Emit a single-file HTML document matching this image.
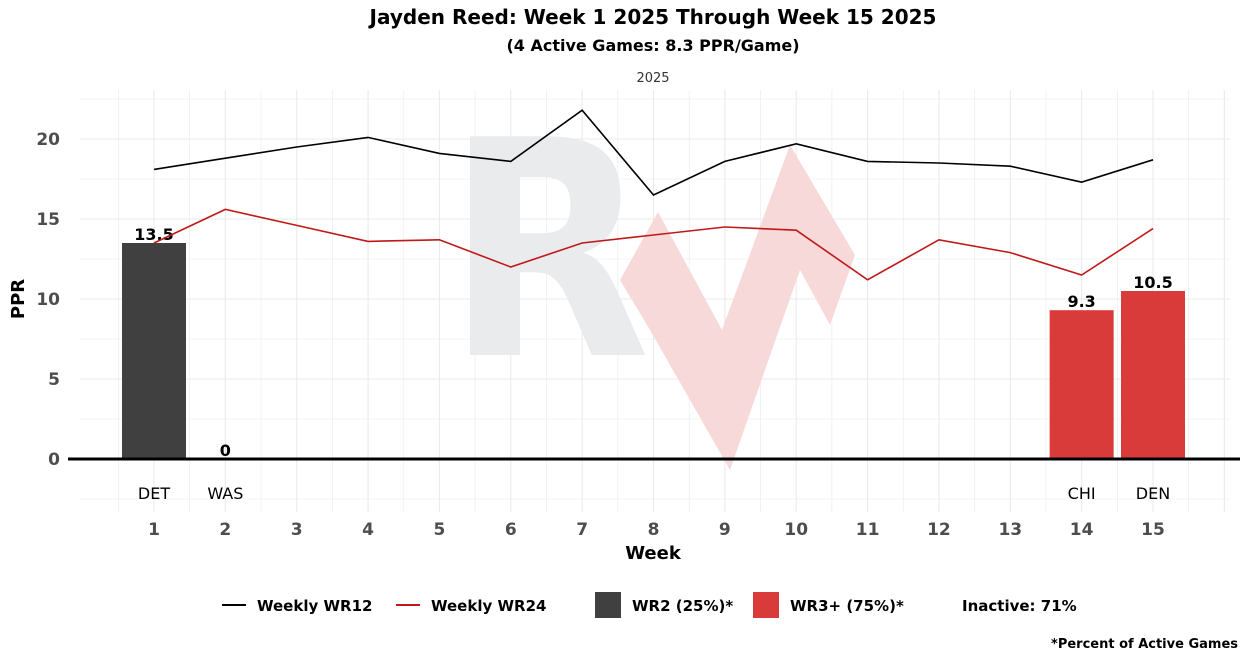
<!DOCTYPE html>
<html><head><meta charset="utf-8"><style>
body{margin:0;background:#fff;font-family:"Liberation Sans","DejaVu Sans",sans-serif}
svg text{font-family:"DejaVu Sans","Liberation Sans",sans-serif}
</style></head><body>
<svg id="c" width="1248" height="660" viewBox="0 0 1248 660" xmlns="http://www.w3.org/2000/svg">
<rect width="1248" height="660" fill="#fff"/>
<text x="653" y="24" text-anchor="middle" font-size="20" font-weight="bold">Jayden Reed: Week 1 2025 Through Week 15 2025</text>
<text x="653" y="51" text-anchor="middle" font-size="16" font-weight="bold">(4 Active Games: 8.3 PPR/Game)</text>
<text x="653" y="82" text-anchor="middle" font-size="13" fill="#333">2025</text>
<g id="grid"></g>
<g>
<text x="548" y="355" text-anchor="middle" font-size="300" font-weight="bold" fill="#eaebed" textLength="205" lengthAdjust="spacingAndGlyphs">R</text>
<polygon points="620,280 658,212 722,330 790,145 855,255 830,325 800,270 730,470 650,330" fill="#f7d9d9"/>
</g>
<g id="bars"></g>
<g id="lines"></g>
<line x1="68" y1="459" x2="1240" y2="459" stroke="#000" stroke-width="3"/>
<g id="axes"></g>
<text x="653" y="559" text-anchor="middle" font-size="18" font-weight="bold">Week</text>
<text x="24" y="299" text-anchor="middle" font-size="18" font-weight="bold" transform="rotate(-90 24 299)">PPR</text>
<g font-size="15" font-weight="bold">
<line x1="222" y1="605" x2="246" y2="605" stroke="#000" stroke-width="2"/>
<text x="257" y="611">Weekly WR12</text>
<line x1="396" y1="605" x2="420" y2="605" stroke="#c01818" stroke-width="2"/>
<text x="431" y="611">Weekly WR24</text>
<rect x="595" y="592" width="26" height="26" fill="#404040"/>
<text x="632" y="611">WR2 (25%)*</text>
<rect x="753" y="592" width="26" height="26" fill="#d93b3b"/>
<text x="790" y="611">WR3+ (75%)*</text>
<text x="962" y="611">Inactive: 71%</text>
</g>
<text x="1238" y="648" text-anchor="end" font-size="13" font-weight="bold">*Percent of Active Games</text>
</svg>
<script>
const weeks=[1,2,3,4,5,6,7,8,9,10,11,12,13,14,15];
const wr12=[18.1,18.8,19.5,20.1,19.1,18.6,21.8,16.5,18.6,19.7,18.6,18.5,18.3,17.3,18.7];
const wr24=[13.5,15.6,14.6,13.6,13.7,12.0,13.5,14.0,14.5,14.3,11.2,13.7,12.9,11.5,14.4];
const barWeeks=[1,2,14,15];
const barValues=[13.5,0,9.3,10.5];
const barOpp=["DET","WAS","CHI","DEN"];
const barTier=["WR2","WR2","WR3+","WR3+"];
const yTicks=[0,5,10,15,20];
const NS="http://www.w3.org/2000/svg";
const xs=w=>154+(w-1)*(1153-154)/14;
const ys=v=>459-v*16;
function mk(t,a,p){const e=document.createElementNS(NS,t);for(const k in a)e.setAttribute(k,a[k]);p.appendChild(e);return e;}
const grid=document.getElementById('grid');
for(let w=0.5;w<=16;w+=0.5){if(xs(w)<80||xs(w)>1230)continue;const l=mk('line',{x1:xs(w),x2:xs(w),y1:90,y2:512,stroke:'#ebebeb','stroke-width':w%1?0.6:1.1},grid);

}
for(let v=-2.5;v<=23;v+=2.5){const l=mk('line',{x1:80,x2:1230,y1:ys(v),y2:ys(v),stroke:'#ebebeb','stroke-width':v%5?0.6:1.1},grid);

}
const axes=document.getElementById('axes');
yTicks.forEach(v=>{const t=mk('text',{x:60,y:ys(v)+6,'text-anchor':'end','font-size':17,'font-weight':'bold',fill:'#4d4d4d'},axes);t.textContent=v;

});
weeks.forEach(w=>{const t=mk('text',{x:xs(w),y:535,'text-anchor':'middle','font-size':17,'font-weight':'bold',fill:'#4d4d4d'},axes);t.textContent=w;

});
const bars=document.getElementById('bars');
barWeeks.forEach((w,i)=>{const v=barValues[i];
const r=mk('rect',{x:xs(w)-32,y:ys(v),width:64,height:ys(0)-ys(v),fill:barTier[i]==='WR2'?'#404040':'#d93b3b'},bars);


const t=mk('text',{x:xs(w),y:ys(v)-3,'text-anchor':'middle','font-size':16,'font-weight':'bold'},bars);t.textContent=v;


const o=mk('text',{x:xs(w),y:499,'text-anchor':'middle','font-size':16},bars);o.textContent=barOpp[i];

});
const lines=document.getElementById('lines');
[[wr12,'#000','wr12-line'],[wr24,'#c01818','wr24-line']].forEach(([d,c,n])=>{
const p=mk('polyline',{points:d.map((v,i)=>xs(weeks[i])+','+ys(v)).join(' '),fill:'none',stroke:c,'stroke-width':1.6},lines);

});
</script>
</body></html>
